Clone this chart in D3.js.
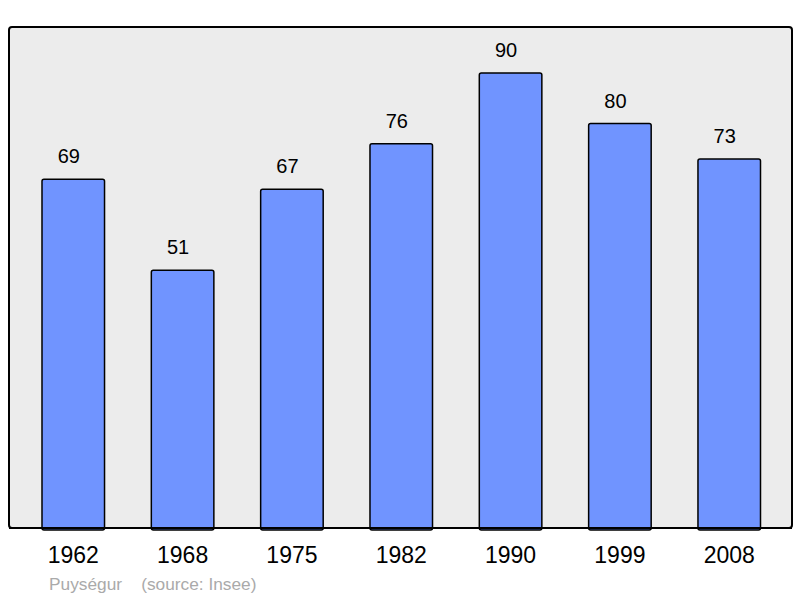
<!DOCTYPE html>
<html lang="fr">
<head>
<meta charset="UTF-8">
<title>Puységur - population</title>
<style>
    body, html {
        margin: 0;
        padding: 0;
        background: #fff;
        font-family: "Liberation Sans", Arial, sans-serif;
    }
</style>
</head>
<body>
<svg id="chart" width="800" height="598"></svg>
<script src="https://cdnjs.cloudflare.com/ajax/libs/d3/7.8.5/d3.min.js"></script>
<script>
    // data
    const years = ["1962", "1968", "1975", "1982", "1990", "1999", "2008"];
    const population = [69, 51, 67, 76, 90, 80, 73];
    const townName = "Puységur";
    const sourceText = "(source: Insee)";

    const svg = d3.select("#chart");

    // plot panel
    const panel = { left: 9, top: 27, right: 792, bottom: 528 };

    svg.append("rect")
        .attr("x", panel.left)
        .attr("y", panel.top)
        .attr("width", panel.right - panel.left)
        .attr("height", panel.bottom - panel.top)
        .attr("rx", 3)
        .attr("fill", "#ececec")
        .attr("stroke", "#000")
        .attr("stroke-width", 2);

    const x = d3.scaleBand()
        .domain(years)
        .range([18.6, 783.9])
        .paddingInner(0.428)
        .paddingOuter(0.214);

    const y = d3.scaleLinear()
        .domain([0, 90])
        .range([panel.bottom, 73]);

    const rows = years.map((yr, i) => ({ year: yr, value: population[i] }));

    svg.selectAll("rect.bar")
        .data(rows)
        .enter()
        .append("rect")
        .attr("class", "bar")
        .attr("x", d => x(d.year))
        .attr("y", d => y(d.value))
        .attr("width", x.bandwidth())
        .attr("height", d => panel.bottom - y(d.value) + 2)
        .attr("rx", 2)
        .attr("fill", "#7094ff")
        .attr("stroke", "#000")
        .attr("stroke-width", 1.5);

    // redraw the bottom border over the bar ends
    svg.append("line")
        .attr("x1", panel.left)
        .attr("x2", panel.right)
        .attr("y1", panel.bottom)
        .attr("y2", panel.bottom)
        .attr("stroke", "#000")
        .attr("stroke-width", 2);

    // value labels sit a little left of the bar centre, as in the original
    svg.selectAll("text.value")
        .data(rows)
        .enter()
        .append("text")
        .attr("class", "value")
        .attr("x", d => x(d.year) + x.bandwidth() / 2 - 4.5)
        .attr("y", d => y(d.value) - 16)
        .attr("text-anchor", "middle")
        .attr("font-size", 20)
        .attr("fill", "#000")
        .text(d => d.value);

    // year labels via a bottom axis without lines
    const xAxis = svg.append("g")
        .attr("transform", `translate(0,${panel.bottom})`)
        .call(d3.axisBottom(x).tickSize(0).tickPadding(19));
    xAxis.select(".domain").remove();
    xAxis.selectAll("text")
        .attr("font-family", "'Liberation Sans', Arial, sans-serif")
        .attr("font-size", 23)
        .attr("fill", "#000");

    svg.append("text")
        .attr("x", 49)
        .attr("y", 590)
        .attr("font-size", 17.3)
        .attr("fill", "#aaa")
        .attr("xml:space", "preserve")
        .text(townName + "    " + sourceText);
</script>
</body>
</html>
